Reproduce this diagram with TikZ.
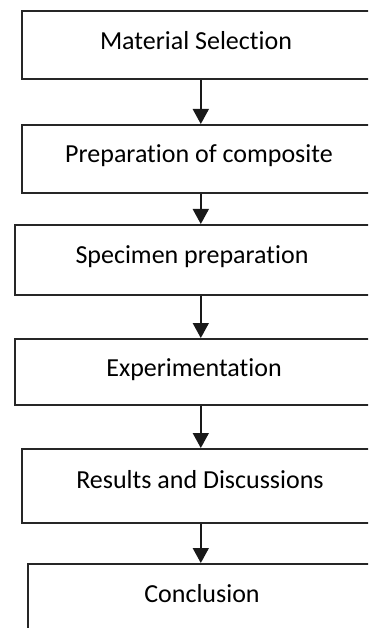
\documentclass[tikz,border=0pt]{standalone}
\usepackage{fontspec}
\setmainfont[Ligatures={NoCommon}]{Carlito}
\usetikzlibrary{arrows.meta}
\begin{document}
\begin{tikzpicture}[x=1pt,y=-1pt,
  box/.style={draw=black!85,line width=1.6pt,rectangle,inner sep=0pt,anchor=north west},
  lbl/.style={anchor=base,inner sep=0pt,font=\fontsize{26}{30}\selectfont},
  conn/.style={draw=black!90,line width=1.6pt,-{Triangle[length=15pt,width=16pt]}}]
\useasboundingbox (0,0) rectangle (368,628);
\clip (0,0) rectangle (368,628);
\fill[white] (0,0) rectangle (368,628);
\node[box,minimum width=358pt,minimum height=68pt] (b1) at (21,10) {};
\node[box,minimum width=358pt,minimum height=68pt] (b2) at (21,124) {};
\node[box,minimum width=372pt,minimum height=70pt] (b3) at (14,224) {};
\node[box,minimum width=372pt,minimum height=66pt] (b4) at (14,338) {};
\node[box,minimum width=358pt,minimum height=74pt] (b5) at (21,448) {};
\node[box,minimum width=346pt,minimum height=80pt] (b6) at (27,563) {};
\node[lbl] (t1) at (196,50) {Material Selection};
\node[lbl] (t2) at (199,163) {Preparation of composite};
\node[lbl] (t3) at (192,263) {Specimen preparation};
\node[lbl] (t4) at (194,376) {Experimentation};
\node[lbl] (t5) at (200,488) {Results and Discussions};
\node[lbl] (t6) at (202,602) {Conclusion};
\draw[conn] (b1.south) -- (b2.north);
\draw[conn] (b2.south) -- (b3.north);
\draw[conn] (b3.south) -- (b4.north);
\draw[conn] (b4.south) -- (b5.north);
\draw[conn] (b5.south) -- (b6.north);
\end{tikzpicture}
\end{document}
